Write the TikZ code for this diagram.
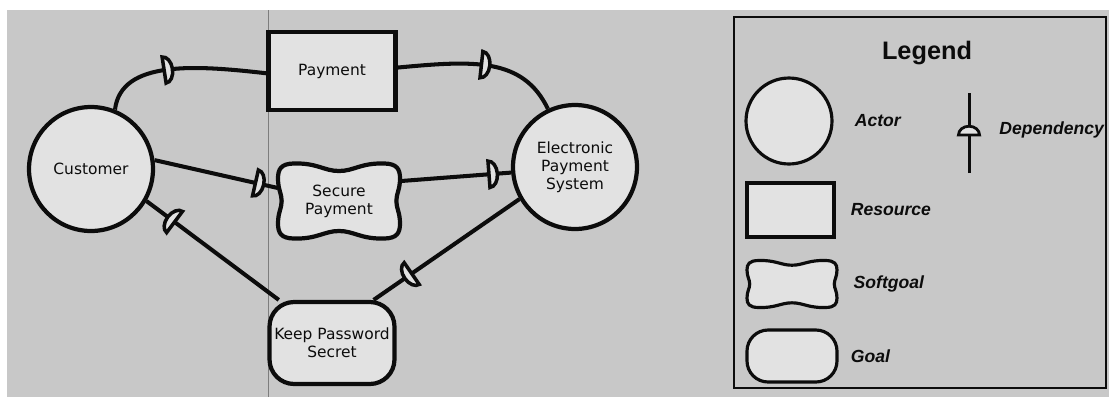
\documentclass[tikz,border=0pt]{standalone}
\usepackage{fontspec}
\setmainfont{DejaVu Sans}
\newfontfamily\legendfont{Liberation Sans}
\usepackage{tikz}
\usetikzlibrary{positioning,backgrounds,decorations.markings}
\definecolor{paperGray}{RGB}{200,200,200}
\definecolor{shapeGray}{RGB}{226,226,226}
\definecolor{inkBlack}{RGB}{12,12,12}
\definecolor{seamGray}{RGB}{125,125,125}

\tikzset{
  diag/.style={font=\fontsize{8.8}{10.2}\selectfont, align=center, inner sep=0pt, text=inkBlack},
  actor/.style={diag, circle, draw=inkBlack, line width=2.4pt, fill=shapeGray, minimum size=2.48cm},
  resource/.style={diag, rectangle, draw=inkBlack, line width=2.4pt, fill=shapeGray,
    minimum width=2.54cm, minimum height=1.56cm},
  goal/.style={diag, rectangle, rounded corners=14pt, draw=inkBlack, line width=2.4pt, fill=shapeGray,
    minimum width=2.5cm, minimum height=1.64cm},
  softgoal/.style={diag, rectangle, minimum width=2.44cm, minimum height=1.5cm},
  softshape/.pic={
    \draw[draw=inkBlack, fill=shapeGray]
      (-0.75,1) .. controls (-0.35,1.02) and (-0.25,0.8) .. (0,0.8)
      .. controls (0.25,0.8) and (0.35,1.02) .. (0.75,1)
      .. controls (0.95,0.99) and (1,0.85) .. (1,0.6)
      .. controls (1,0.3) and (0.94,0.2) .. (0.94,0)
      .. controls (0.94,-0.2) and (1,-0.3) .. (1,-0.6)
      .. controls (1,-0.85) and (0.95,-0.99) .. (0.75,-1)
      .. controls (0.35,-1.02) and (0.25,-0.8) .. (0,-0.8)
      .. controls (-0.25,-0.8) and (-0.35,-1.02) .. (-0.75,-1)
      .. controls (-0.95,-0.99) and (-1,-0.85) .. (-1,-0.6)
      .. controls (-1,-0.3) and (-0.94,-0.2) .. (-0.94,0)
      .. controls (-0.94,0.2) and (-1,0.3) .. (-1,0.6)
      .. controls (-1,0.85) and (-0.95,0.99) .. (-0.75,1) -- cycle;
  },
  dep/.style={draw=inkBlack, line width=2.3pt, postaction={decorate},
    decoration={markings, mark=at position #1 with {
      \draw[inkBlack, line width=2pt, fill=shapeGray]
        (0,7.5pt) arc[start angle=90, end angle=-90, x radius=4.8pt, y radius=7.5pt] -- cycle;}}},
  deplegend/.style={draw=inkBlack, line width=1.7pt, postaction={decorate},
    decoration={markings, mark=at position #1 with {
      \draw[inkBlack, line width=1.6pt, fill=shapeGray]
        (0,6pt) arc[start angle=90, end angle=-90, x radius=5pt, y radius=6pt] -- cycle;}}},
  legshape/.style={draw=inkBlack, line width=1.8pt, fill=shapeGray, inner sep=0pt},
  legtext/.style={font=\legendfont\bfseries\itshape\fontsize{10}{12}\selectfont, text=inkBlack, inner sep=0pt},
  legtitle/.style={font=\legendfont\bfseries\fontsize{14.4}{16}\selectfont, text=inkBlack, inner sep=0pt}
}

\begin{document}
\begin{tikzpicture}[x=0.02cm, y=-0.02cm]
    \useasboundingbox (0,0) rectangle (1109,397);

    % actors and intentional elements
    \node[actor] (cust) at (91,169) {Customer};
    \node[resource] (pay) at (332,71) {Payment};
    \node[softgoal] (sp) at (339,201) {Secure\\Payment};
    \node[actor] (eps) at (575,167) {Electronic\\Payment\\System};
    \node[goal] (kps) at (332,343) {Keep Password\\Secret};

    % legend
    \draw[inkBlack, line width=1.2pt] (734,17) rectangle (1106,388);
    \node[legtitle] (legtitle) at (927,53) {Legend};
    \node[legshape, circle, minimum size=1.72cm] (lact) at (789,121) {};
    \node[legtext, right=0.42cm of lact] (lacttxt) {Actor};
    \node[legshape, rectangle, minimum width=1.74cm, minimum height=1.08cm] (lres) at (790.5,210) {};
    \node[legtext, right=0.3cm of lres] (lrestxt) {Resource};
    \node[rectangle, inner sep=0pt, minimum width=1.8cm, minimum height=0.94cm] (lsoft) at (792,284) {};
    \node[legtext, right=0.32cm of lsoft] (lsofttxt) {Softgoal};
    \node[legshape, rectangle, rounded corners=12pt, minimum width=1.8cm, minimum height=1.04cm] (lgoal) at (792,356) {};
    \node[legtext, right=0.24cm of lgoal] (lgoaltxt) {Goal};
    \coordinate (ldbot) at (969,173);
    \coordinate (ldtop) at (969,93);
    \draw[deplegend=0.475] (ldbot) -- (ldtop);
    \node[legtext, anchor=west] (ldeptxt) at (999,130) {Dependency};

    % paper, seam and softgoal outlines
    \begin{scope}[on background layer]
        \fill[paperGray] (7,10) rectangle (1109,397);
        \draw[seamGray, line width=0.5pt] (268,10) -- (268,397);
        \pic[xscale=61, yscale=37.5, line width=2.4pt] at (sp) {softshape};
        \pic[xscale=45, yscale=23.5, line width=1.8pt] at (lsoft) {softshape};
    \end{scope}

    % dependencies
    \draw[dep=0.4] (cust.68) .. controls +(6,-50) and +(-70,-8) .. (pay.182);
    \draw[dep=0.5] (pay.3) .. controls +(75,-7) and +(-25,-52) .. (eps.115);
    \draw[dep=0.82] (cust.8) -- (sp.168);
    \draw[dep=0.8] (sp.18) -- (eps.185);
    \draw[dep=0.74] (eps.210) -- (kps.46);
    \draw[dep=0.79] (kps.141) -- (cust.330);
\end{tikzpicture}
\end{document}
